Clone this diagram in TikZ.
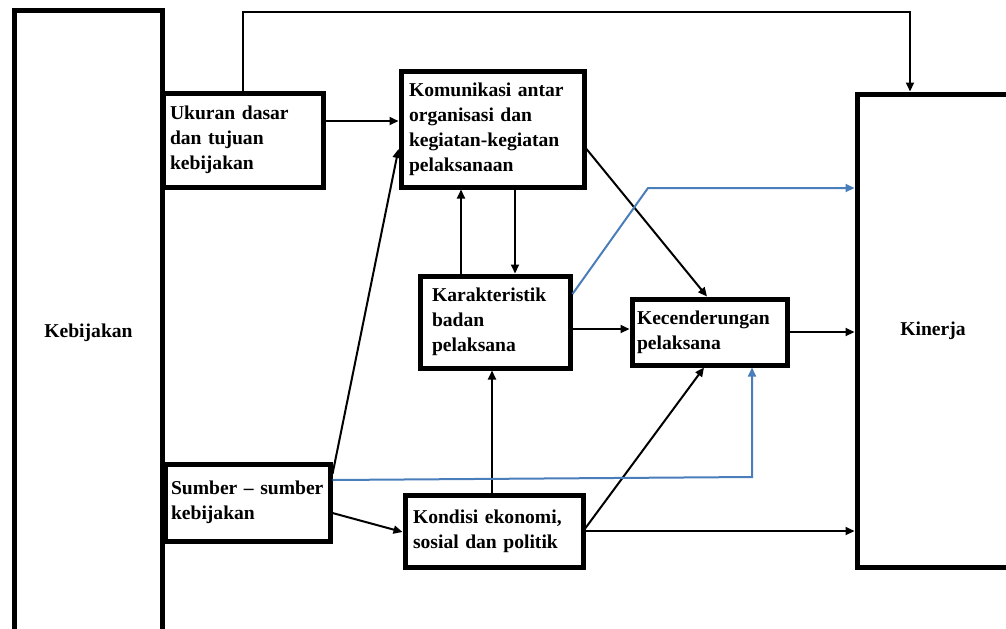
\documentclass[tikz,border=0pt]{standalone}
\usepackage{fontspec}
\setmainfont{Liberation Serif}
\usetikzlibrary{arrows.meta}
\definecolor{lineblue}{HTML}{4A7EBB}
\tikzset{
  boks/.style={rectangle, draw=black, line width=2.5pt, align=left, inner xsep=4pt,
    font=\fontsize{9.8}{12.5}\selectfont\bfseries},
  panah/.style={line width=1pt, ->},
  biru/.style={line width=1pt, ->, draw=lineblue}
}

\begin{document}
\begin{tikzpicture}[x=0.5pt, y=-0.5pt, >={Triangle[length=4.5pt,width=4pt]}]
  \useasboundingbox (0,0) rectangle (1006,628);
  \clip (0,0) rectangle (1006,628);

  \node[boks, align=center, minimum width=74pt, minimum height=323pt] (keb) at (88.5,333) {Kebijakan};
  \node[boks, inner xsep=3.5pt, text width=73pt, minimum height=47pt] (uk) at (243,140) {Ukuran dasar\\dan tujuan\\kebijakan};
  \node[boks, text width=83.5pt, minimum height=58pt] (kom) at (492.5,129) {Komunikasi antar\\organisasi dan\\kegiatan-kegiatan\\pelaksanaan};
  \node[boks, inner xsep=6pt, text width=63pt, minimum height=46pt] (kar) at (495,322) {Karakteristik\\badan\\pelaksana};
  \node[boks, inner xsep=2.5pt, text width=72.5pt, minimum height=33pt] (kec) at (709.5,332) {Kecenderungan\\pelaksana};
  \node[boks, inner xsep=3pt, text width=76.5pt, minimum height=38.5pt] (sb) at (247.5,502.5) {Sumber -- sumber\\kebijakan};
  \node[boks, text width=81pt, minimum height=36pt] (kon) at (494,531) {Kondisi ekonomi,\\sosial dan politik};
  \node[boks, align=center, minimum width=76pt, minimum height=236.5pt] (kin) at (933,330.5) {Kinerja};

  \coordinate (atas) at (910,12);
  \coordinate (tekuk1) at (648,188);
  \coordinate (tekuk2) at (752,477);

  \draw[panah] (uk.north) |- (atas) -- (atas |- kin.north);
  \draw[panah] (uk.east |- 0,121) -- (kom.west |- 0,121);
  \draw[panah] (sb.east |- 0,474) -- (kom.west |- 0,149);
  \draw[panah] (kar.north -| 461,0) -- (kom.south -| 461,0);
  \draw[panah] (kom.south -| 515,0) -- (kar.north -| 515,0);
  \draw[panah] (kom.east |- 0,149) -- (kec.north -| 707,0);
  \draw[panah] (kar.east |- 0,329) -- (kec.west |- 0,329);
  \draw[panah] (kec.east) -- (kec.east -| kin.west);
  \draw[panah] (kon.north -| 492,0) -- (kar.south -| 492,0);
  \draw[panah] (sb.east |- 0,513) -- (kon.west |- 0,532);
  \draw[panah] (kon.east |- 0,528) -- (kec.south -| 704,0);
  \draw[panah] (kon.east) -- (kon.east -| kin.west);

  % garis biru
  \draw[biru] (kar.east |- 0,294) -- (tekuk1) -- (tekuk1 -| kin.west);
  \draw[biru] (sb.east |- 0,480) -- (tekuk2) -- (tekuk2 |- kec.south);
\end{tikzpicture}
\end{document}
